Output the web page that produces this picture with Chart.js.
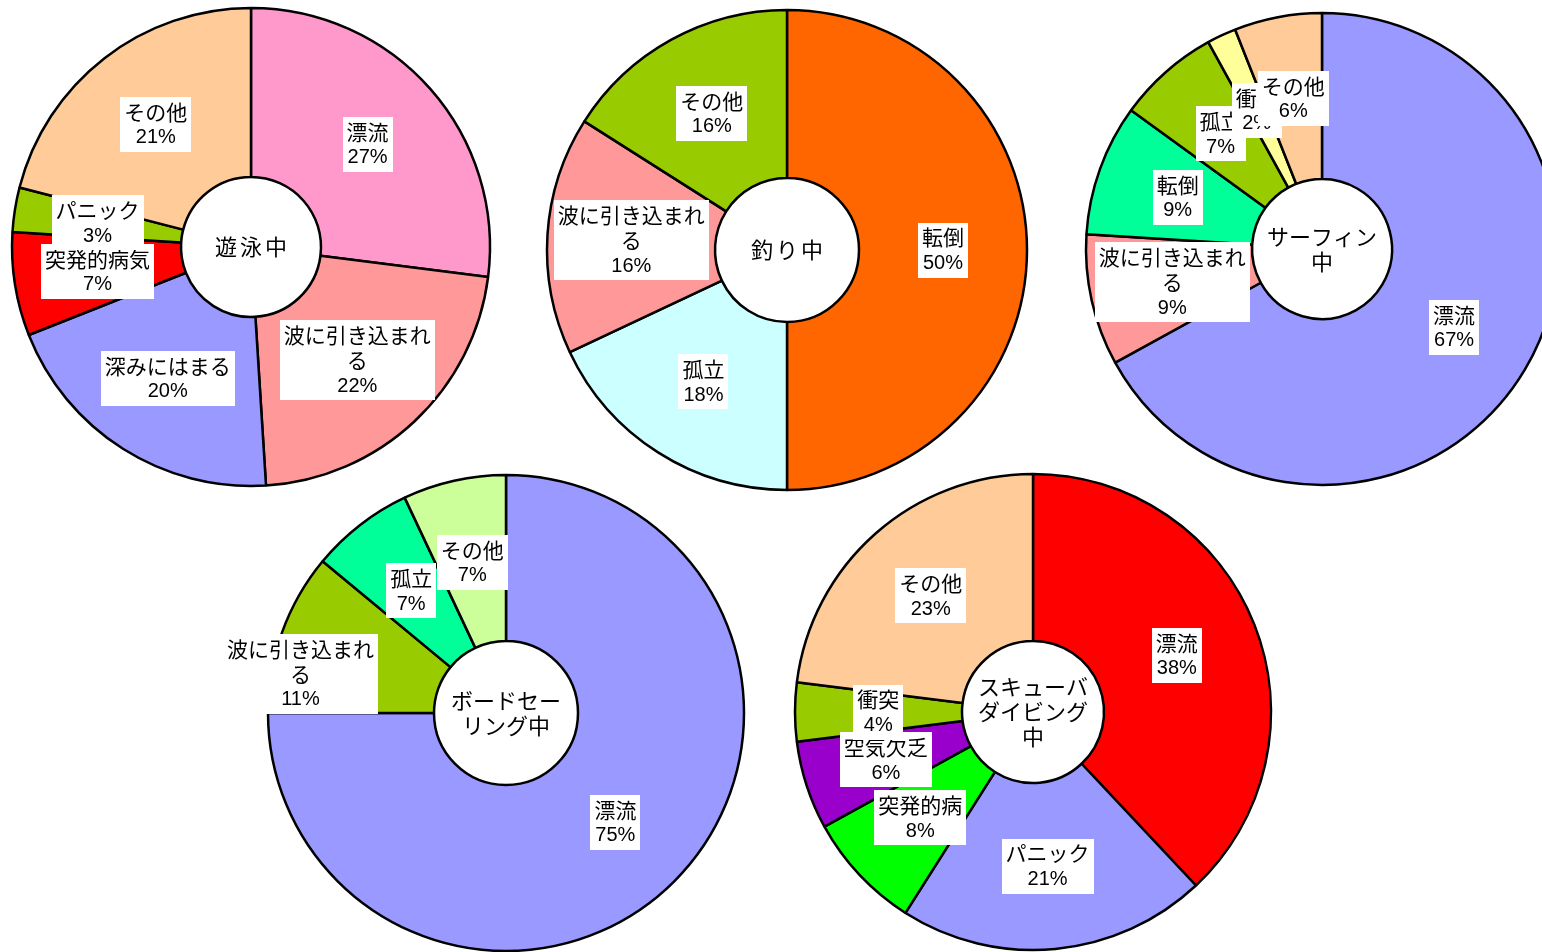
<!DOCTYPE html>
<html lang="ja">
<head>
<meta charset="utf-8">
<title>活動別 事故の原因</title>
<style>
  html, body { margin: 0; padding: 0; background: #fff; overflow: hidden; width: 1542px; height: 952px; }
  .pie { position: absolute; width: 600px; height: 600px; }
</style>
</head>
<body>
<div class="pie" style="left:-49px;top:-53px"><canvas id="swim"></canvas></div>
<div class="pie" style="left:487px;top:-50px"><canvas id="fishing"></canvas></div>
<div class="pie" style="left:1022px;top:-51px"><canvas id="surf"></canvas></div>
<div class="pie" style="left:206px;top:413px"><canvas id="board"></canvas></div>
<div class="pie" style="left:733px;top:412px"><canvas id="scuba"></canvas></div>

<script src="https://cdn.jsdelivr.net/npm/chart.js"></script>
<script>
// 遊泳中
const swimLabels = ['漂流', '波に引き込まれる', '深みにはまる', '突発的病気', 'パニック', 'その他'];
const swimValues = [27, 22, 20, 7, 3, 21];
// 釣り中
const fishLabels = ['転倒', '孤立', '波に引き込まれる', 'その他'];
const fishValues = [50, 18, 16, 16];
// サーフィン中
const surfLabels = ['漂流', '波に引き込まれる', '転倒', '孤立', '衝突', 'その他'];
const surfValues = [67, 9, 9, 7, 2, 6];
// ボードセーリング中
const boardLabels = ['漂流', '波に引き込まれる', '孤立', 'その他'];
const boardValues = [75, 11, 7, 7];
// スキューバダイビング中
const scubaLabels = ['漂流', 'パニック', '突発的病', '空気欠乏', '衝突', 'その他'];
const scubaValues = [38, 21, 8, 6, 4, 23];

const swimColors  = ['#FF99CC', '#FF9999', '#9999FF', '#FF0000', '#99CC00', '#FFCC99'];
const fishColors  = ['#FF6600', '#CCFFFF', '#FF9999', '#99CC00'];
const surfColors  = ['#9999FF', '#FF9999', '#00FF99', '#99CC00', '#FFFF99', '#FFCC99'];
const boardColors = ['#9999FF', '#99CC00', '#00FF99', '#CCFF99'];
const scubaColors = ['#FF0000', '#9999FF', '#00FF00', '#9900CC', '#99CC00', '#FFCC99'];

const JP_FONT = '"Noto Sans CJK JP", "Noto Sans", sans-serif';
const NUM_FONT = '"Liberation Sans", Arial, sans-serif';

// break text into lines character by character
function wrapText(ctx, text, maxWidth) {
  const lines = [];
  let line = '';
  for (const ch of text) {
    if (line && ctx.measureText(line + ch).width > maxWidth) {
      lines.push(line);
      line = ch;
    } else {
      line += ch;
    }
  }
  if (line) lines.push(line);
  return lines;
}

// category name + percentage in a white box at the middle of each slice
const sliceLabels = {
  id: 'sliceLabels',
  afterDatasetsDraw(chart, args, opts) {
    const ctx = chart.ctx;
    const meta = chart.getDatasetMeta(0);
    const values = chart.data.datasets[0].data;
    const shift = opts.shift || {};
    const lh = 25;
    ctx.save();
    ctx.textAlign = 'center';
    ctx.textBaseline = 'middle';
    meta.data.forEach((arc, i) => {
      const p = arc.getProps(['x', 'y', 'startAngle', 'endAngle', 'outerRadius'], true);
      const mid = (p.startAngle + p.endAngle) / 2;
      const r = p.outerRadius * 0.65;
      const d = shift[i] || [0, 0];
      const cx = p.x + Math.cos(mid) * r + d[0];
      const cy = p.y + Math.sin(mid) * r + d[1];

      ctx.font = '21px ' + JP_FONT;
      const lines = wrapText(ctx, chart.data.labels[i], 150);
      let w = Math.max(...lines.map(l => ctx.measureText(l).width));
      const pct = values[i] + '%';
      ctx.font = '20px ' + NUM_FONT;
      w = Math.max(w, ctx.measureText(pct).width);

      const n = lines.length + 1;
      const bw = w + 8, bh = n * lh + 5;
      ctx.fillStyle = '#fff';
      ctx.fillRect(Math.round(cx - bw / 2), Math.round(cy - bh / 2), Math.round(bw), bh);

      ctx.fillStyle = '#000';
      const y0 = cy - (n - 1) * lh / 2;
      ctx.font = '21px ' + JP_FONT;
      lines.forEach((l, k) => ctx.fillText(l, cx, y0 + k * lh));
      ctx.font = '20px ' + NUM_FONT;
      ctx.fillText(pct, cx, y0 + lines.length * lh + 1);
    });
    ctx.restore();
  }
};

// activity name inside the hole
const centerTitle = {
  id: 'centerTitle',
  afterDraw(chart, args, opts) {
    const ctx = chart.ctx;
    const arc = chart.getDatasetMeta(0).data[0];
    const lh = 25;
    ctx.save();
    ctx.font = '22px ' + JP_FONT;
    ctx.fillStyle = '#000';
    ctx.textAlign = 'center';
    ctx.textBaseline = 'middle';
    const lines = wrapText(ctx, opts.text, 118);
    // short single-line titles are spread out a little
    if (lines.length === 1) ctx.letterSpacing = '3px';
    const y0 = arc.y - (lines.length - 1) * lh / 2;
    lines.forEach((l, k) => ctx.fillText(l, arc.x + (lines.length === 1 ? 1.5 : 0), y0 + k * lh));
    ctx.restore();
  }
};

function makePie(id, title, labels, values, colors, radius, hole, shift) {
  new Chart(document.getElementById(id), {
    type: 'doughnut',
    data: {
      labels: labels,
      datasets: [{
        data: values,
        backgroundColor: colors,
        borderColor: '#000',
        borderWidth: 2.5,
        hoverOffset: 0
      }]
    },
    options: {
      responsive: true,
      maintainAspectRatio: false,
      animation: false,
      radius: radius,
      cutout: (hole / radius * 100) + '%',
      rotation: 0,
      events: [],
      plugins: {
        legend: { display: false },
        tooltip: { enabled: false },
        centerTitle: { text: title },
        sliceLabels: { shift: shift }
      }
    },
    plugins: [sliceLabels, centerTitle]
  });
}

makePie('swim', '遊泳中', swimLabels, swimValues, swimColors, 239, 70);
makePie('fishing', '釣り中', fishLabels, fishValues, fishColors, 240, 72);
makePie('surf', 'サーフィン中', surfLabels, surfValues, surfColors, 236, 70);
// the wide label would sit on the hole, so it is moved out to the left
makePie('board', 'ボードセーリング中', boardLabels, boardValues, boardColors, 238, 72, { 1: [-60, 13] });
makePie('scuba', 'スキューバダイビング中', scubaLabels, scubaValues, scubaColors, 238, 71);
</script>
</body>
</html>
